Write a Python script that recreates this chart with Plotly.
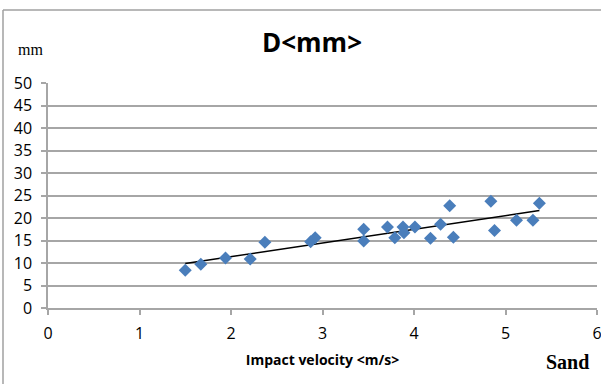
import numpy as np
import plotly.graph_objects as go

velocity = [1.50, 1.67, 1.94, 2.21, 2.37, 2.87, 2.92, 3.45, 3.45, 3.71, 3.79, 3.88,
            3.89, 4.01, 4.18, 4.29, 4.39, 4.43, 4.84, 4.88, 5.12, 5.30, 5.37]
diameter = [8.4, 9.7, 11.1, 10.9, 14.6, 14.7, 15.6, 17.5, 14.9, 18.0, 15.6, 18.0,
            16.7, 18.0, 15.5, 18.6, 22.7, 15.7, 23.7, 17.2, 19.5, 19.5, 23.3]
x_ticks = [0, 1, 2, 3, 4, 5, 6]
y_ticks = [0, 5, 10, 15, 20, 25, 30, 35, 40, 45, 50]

slope, intercept = np.polyfit(velocity, diameter, 1)
tx = [min(velocity), max(velocity)]
ty = [slope * v + intercept for v in tx]

fig = go.Figure()
fig.add_trace(go.Scatter(x=tx, y=ty, mode="lines",
                         line=dict(color="black", width=1.5), hoverinfo="skip"))
fig.add_trace(go.Scatter(x=velocity, y=diameter, mode="markers",
                         marker=dict(symbol="diamond", size=10, color="#4a7ebb")))

grid = "#a6a6a6"
sans = "Open Sans, Liberation Sans, sans-serif"
fig.update_layout(
    width=601, height=384,
    margin=dict(l=48, r=4, t=83, b=76, autoexpand=False),
    paper_bgcolor="white", plot_bgcolor="white",
    showlegend=False,
    font=dict(family=sans, color="black"),
    xaxis=dict(range=[0, 6], tickvals=x_ticks, showgrid=False, zeroline=False,
               automargin=False,
               showline=True, linecolor=grid, linewidth=1.5,
               ticks="outside", ticklen=5, tickcolor=grid, tickwidth=1.5,
               ticklabeloverflow="allow", ticklabelstandoff=5,
               tickfont=dict(size=16, family=sans),
               title=dict(text="<b>Impact velocity &lt;m/s&gt;</b>",
                          font=dict(size=14, family=sans),
                          standoff=12)),
    yaxis=dict(range=[0, 50], tickvals=y_ticks, showgrid=True, gridcolor=grid,
               gridwidth=1.5, zeroline=False, automargin=False,
               showline=True, linecolor=grid, linewidth=1.5,
               ticks="outside", ticklen=5, tickcolor=grid, tickwidth=1.5,
               ticklabelstandoff=6,
               tickfont=dict(size=16, family=sans)),
    title=dict(text="<b>D&lt;mm&gt;</b>", x=312 / 601, xanchor="center",
               y=1 - 43 / 384, yanchor="middle",
               font=dict(size=26, family=sans)),
)
fig.add_annotation(text="mm", xref="paper", yref="paper",
                   x=(30 - 48) / 549, y=(308 - 50) / 225,
                   showarrow=False, xanchor="center", yanchor="middle",
                   font=dict(size=16, family="Liberation Serif, serif"))
fig.add_annotation(text="<b>Sand</b>", xref="paper", yref="paper",
                   x=(567 - 48) / 549, y=(308 - 362) / 225,
                   showarrow=False, xanchor="center", yanchor="middle",
                   font=dict(size=20, family="Liberation Serif, serif"))
# chart frame (top and left)
fig.add_shape(type="line", xref="paper", yref="paper",
              x0=(3 - 48) / 549, x1=(601 - 48) / 549,
              y0=(308 - 10) / 225, y1=(308 - 10) / 225,
              line=dict(color="#a0a0a0", width=1.5))
fig.add_shape(type="line", xref="paper", yref="paper",
              x0=(3 - 48) / 549, x1=(3 - 48) / 549,
              y0=(308 - 10) / 225, y1=(308 - 384) / 225,
              line=dict(color="#a0a0a0", width=1.5))

fig.write_html("out.html")
